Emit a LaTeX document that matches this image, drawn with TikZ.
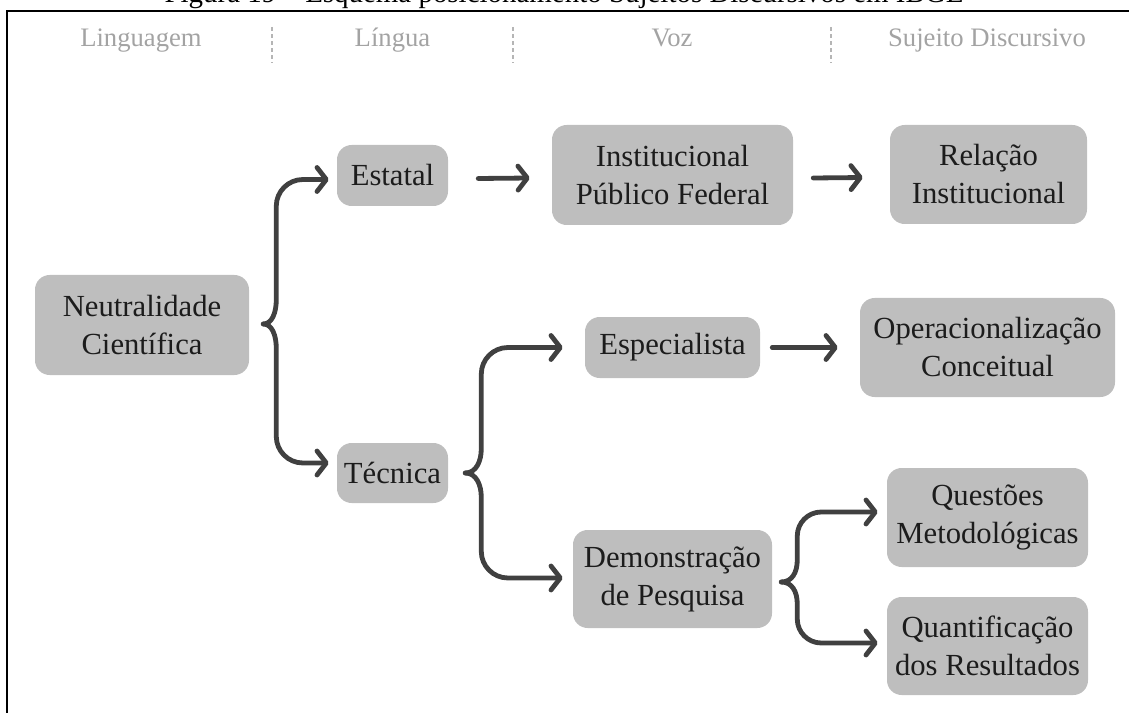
\documentclass[tikz,border=0pt]{standalone}
\usepackage{fontspec}
\setmainfont{Liberation Serif}
\usetikzlibrary{arrows.meta,calc}

\definecolor{boxgray}{HTML}{BEBEBE}
\definecolor{inkc}{HTML}{1C1C1C}
\definecolor{linec}{HTML}{404040}
\definecolor{headc}{HTML}{A3A3A3}
\definecolor{sepc}{HTML}{B5B5B5}

\tikzset{
  box/.style={fill=boxgray, rounded corners=11pt, align=center, text=inkc,
    inner sep=0pt, font=\fontsize{23}{28.5}\selectfont},
  sz/.style 2 args={minimum width=#1*0.75pt, minimum height=#2*0.75pt},
  head/.style={anchor=base, text=headc, font=\fontsize{20}{23}\selectfont},
  sep/.style={draw=sepc, line width=1.1pt, dash pattern=on 3pt off 2.3pt},
  conn/.style={draw=linec, line width=3.6pt, line cap=round, line join=round,
    -{Straight Barb[round,length=7pt,width=18pt]}},
  frame/.style={draw=black, line width=1.5pt},
}

\begin{document}
\begin{tikzpicture}[x=0.75pt,y=-0.75pt]
\useasboundingbox (0,0) rectangle (1129,713);

% caption line (only its lower part falls on the page) and the frame
\node[anchor=base, font=\fontsize{21.7}{26}\selectfont] (cap) at (564,3)
  {Figura 19 – Esquema posicionamento Sujeitos Discursivos em IBGE};
\draw[frame] (6.5,760) -- (6.5,11) -- (1180,11);

% column headings
\node[head] (h1) at (141,47) {Linguagem};
\node[head] (h2) at (392.5,47) {Língua};
\node[head] (h3) at (672,47) {Voz};
\node[head] (h4) at (987,47) {Sujeito Discursivo};
\coordinate (s1a) at (272,27); \coordinate (s1b) at (272,63);
\coordinate (s2a) at (513,27); \coordinate (s2b) at (513,63);
\coordinate (s3a) at (831,27); \coordinate (s3b) at (831,63);
\draw[sep] (s1a) -- (s1b);
\draw[sep] (s2a) -- (s2b);
\draw[sep] (s3a) -- (s3b);

% boxes
\node[box, sz={214}{100}] (neu) at (142,325)   {Neutralidade\\Científica};
\node[box, sz={111}{61}]  (est) at (392.5,175.5) {Estatal};
\node[box, sz={241}{100}] (ipf) at (672.5,175) {Institucional\\Público Federal};
\node[box, sz={197}{99}]  (rel) at (988.5,174.5) {Relação\\Institucional};
\node[box, sz={111}{60}]  (tec) at (392.5,473) {Técnica};
\node[box, sz={175}{61}]  (esp) at (672.5,347.5) {Especialista};
\node[box, sz={255}{99}]  (ope) at (987.5,347.5) {Operacionalização\\Conceitual};
\node[box, sz={199}{98}]  (dem) at (672.5,579) {Demonstração\\de Pesquisa};
\node[box, sz={201}{99}]  (que) at (987.5,517.5) {Questões\\Metodológicas};
\node[box, sz={201}{98}]  (qua) at (987.5,646) {Quantificação\\dos Resultados};

% straight arrows
\draw[conn] ($(est.east)+(30,3)$) -- ($(ipf.west)+(-22,3)$);
\draw[conn] ($(ipf.east)+(20,3)$) -- ($(rel.west)+(-27,3)$);
\draw[conn] ($(esp.east)+(12,0)$) -- ($(ope.west)+(-22,0)$);

% brace from Neutralidade Científica
\coordinate (t1) at ($(neu.east)+(14,-1)$);
\draw[conn] (t1) .. controls ($(t1)+(9,0)$) and ($(t1)+(13,-12)$) .. ($(t1)+(13,-24)$)
  [rounded corners=20pt] |- ($(est.west)+(-8,4)$);
\draw[conn] (t1) .. controls ($(t1)+(9,0)$) and ($(t1)+(13,12)$) .. ($(t1)+(13,24)$)
  [rounded corners=20pt] |- ($(tec.west)+(-8,-10)$);

% brace from Técnica
\coordinate (t2) at ($(tec.east)+(17,0)$);
\draw[conn] (t2) .. controls ($(t2)+(11,0)$) and ($(t2)+(16,-12)$) .. ($(t2)+(16,-24)$)
  [rounded corners=20pt] |- ($(esp.west)+(-22,0)$);
\draw[conn] (t2) .. controls ($(t2)+(11,0)$) and ($(t2)+(16,12)$) .. ($(t2)+(16,24)$)
  [rounded corners=20pt] |- ($(dem.west)+(-10,-1)$);

% brace from Demonstração de Pesquisa
\coordinate (t3) at ($(dem.east)+(9,3)$);
\draw[conn] (t3) .. controls ($(t3)+(11,0)$) and ($(t3)+(16,-10)$) .. ($(t3)+(16,-22)$)
  [rounded corners=18pt] |- ($(que.west)+(-9,-5.5)$);
\draw[conn] (t3) .. controls ($(t3)+(11,0)$) and ($(t3)+(16,10)$) .. ($(t3)+(16,22)$)
  [rounded corners=18pt] |- ($(qua.west)+(-9,-3)$);
\end{tikzpicture}
\end{document}
